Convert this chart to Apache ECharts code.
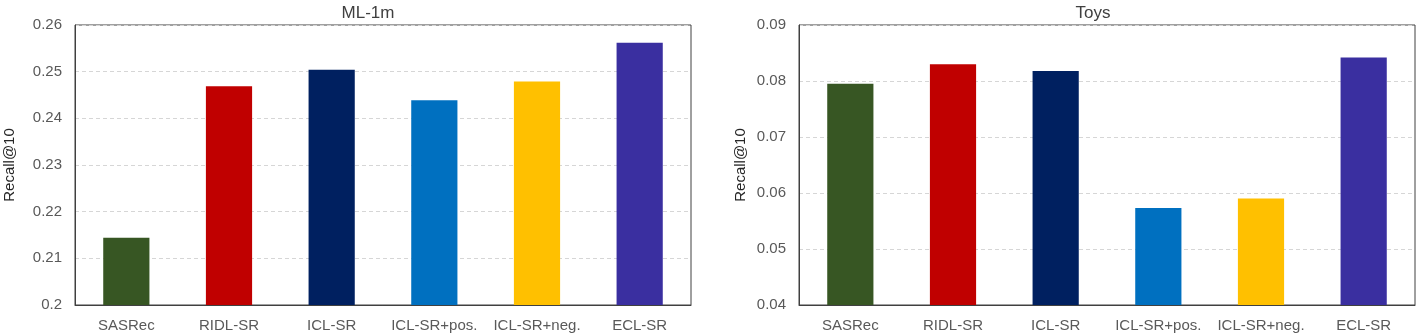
<!DOCTYPE html>
<html>
<head>
<meta charset="utf-8">
<script src="https://cdn.jsdelivr.net/npm/echarts@6/dist/echarts.min.js"></script>
<style>
  html, body { margin: 0; padding: 0; background: #fff; }
  #main { width: 1416px; height: 336px; }
</style>
</head>
<body>
<div id="main"></div>
<script>
// 数据
var methods = ['SASRec', 'RIDL-SR', 'ICL-SR', 'ICL-SR+pos.', 'ICL-SR+neg.', 'ECL-SR'];
var barColors = ['#375623', '#C00000', '#002060', '#0070C0', '#FFC000', '#3A2FA0'];
var ml1m = [0.2144, 0.2469, 0.2504, 0.2439, 0.2479, 0.2562];
var toys = [0.0795, 0.0830, 0.0818, 0.0573, 0.0590, 0.0842];
var ml1mTicks = { min: 0.2, max: 0.26, interval: 0.01 };
var toysTicks = { min: 0.04, max: 0.09, interval: 0.01 };

var myChart = echarts.init(document.getElementById('main'));

var font = "'Liberation Sans', Arial, sans-serif";

function xAxisCfg(gridIndex) {
    return {
        type: 'category',
        gridIndex: gridIndex,
        data: methods,
        axisTick: { show: false },
        axisLine: { show: true, lineStyle: { color: '#404040', width: 1 } },
        axisLabel: { color: '#595959', fontSize: 15, margin: 13, fontFamily: font, interval: 0 }
    };
}

function yAxisCfg(gridIndex, ticks, gap) {
    return {
        type: 'value',
        gridIndex: gridIndex,
        min: ticks.min,
        max: ticks.max,
        interval: ticks.interval,
        name: 'Recall@10',
        nameLocation: 'middle',
        nameGap: gap,
        nameTextStyle: { color: '#262626', fontSize: 15, fontFamily: font },
        axisTick: { show: false },
        axisLine: { show: true, lineStyle: { color: '#404040', width: 1 } },
        axisLabel: {
            color: '#595959', fontSize: 15, margin: 13, fontFamily: font,
            formatter: function (v) { return String(parseFloat(v.toFixed(3))); }
        },
        splitLine: { show: true, lineStyle: { color: '#d6d6d6', type: [4, 3], width: 1 } }
    };
}

function barSeries(idx, data) {
    return {
        type: 'bar',
        xAxisIndex: idx,
        yAxisIndex: idx,
        barWidth: '45%',
        data: data.map(function (v, i) {
            return { value: v, itemStyle: { color: barColors[i] } };
        })
    };
}

option = {
    animation: false,
    backgroundColor: '#fff',
    title: [
        { text: 'ML-1m', left: 363, top: 0, textAlign: 'center',
          textStyle: { color: '#404040', fontSize: 17, fontWeight: 'normal', fontFamily: font } },
        { text: 'Toys', left: 1088, top: 0, textAlign: 'center',
          textStyle: { color: '#404040', fontSize: 17, fontWeight: 'normal', fontFamily: font } }
    ],
    grid: [
        { left: 75, right: 725, top: 25, bottom: 31, show: true, borderColor: '#404040', borderWidth: 1 },
        { left: 799, right: 1, top: 25, bottom: 31, show: true, borderColor: '#404040', borderWidth: 1 }
    ],
    xAxis: [xAxisCfg(0), xAxisCfg(1)],
    yAxis: [yAxisCfg(0, ml1mTicks, 58), yAxisCfg(1, toysTicks, 51)],
    series: [barSeries(0, ml1m), barSeries(1, toys)]
};

myChart.setOption(option);
</script>
</body>
</html>
